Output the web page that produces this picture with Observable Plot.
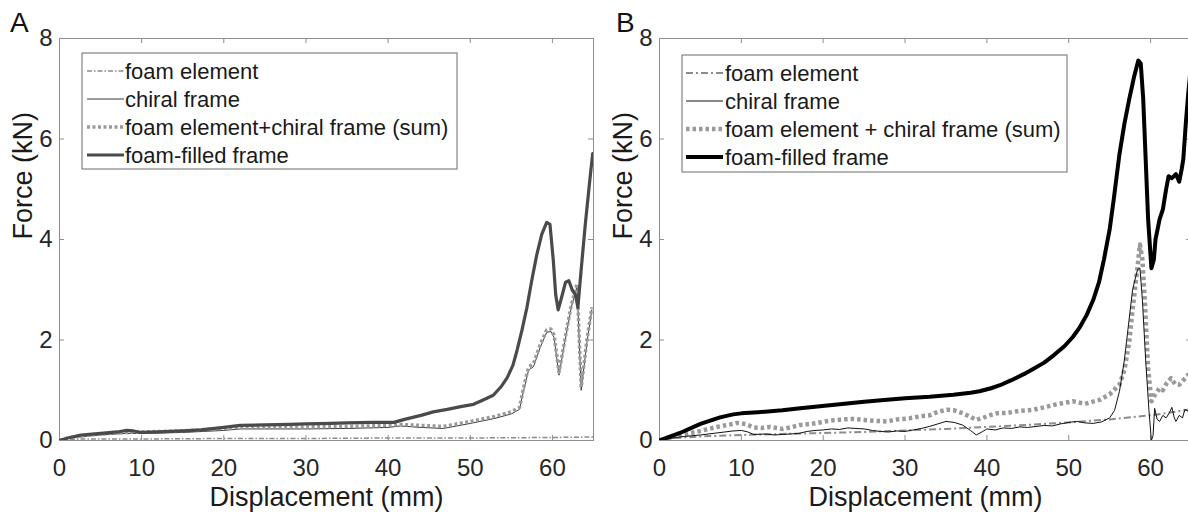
<!DOCTYPE html>
<html><head><meta charset="utf-8">
<script src="https://cdn.jsdelivr.net/npm/d3@7"></script>
<script src="https://cdn.jsdelivr.net/npm/@observablehq/plot@0.6"></script>
<style>
html,body{margin:0;padding:0;background:#fff;}
#wrap{position:relative;width:1188px;height:518px;overflow:hidden;background:#fff;}
.panel{position:absolute;top:0;width:600px;height:518px;}
</style></head><body>
<div id="wrap"><div class="panel" id="pa" style="left:0"></div><div class="panel" id="pb" style="left:600px"></div></div>
<script>
// ---------- ticks & labels ----------
const xTicks = [0, 10, 20, 30, 40, 50, 60];
const yTicks = [0, 2, 4, 6, 8];
const xLabel = "Displacement (mm)";
const yLabel = "Force (kN)";
const namesA = ["foam element", "chiral frame", "foam element+chiral frame (sum)", "foam-filled frame"];
const namesB = ["foam element", "chiral frame", "foam element + chiral frame (sum)", "foam-filled frame"];

// ---------- Panel A data [displacement mm, force kN] ----------
const aFoam = [[0,0],[1,0.02],[3,0.03],[10,0.03],[20,0.04],[30,0.04],[40,0.05],[50,0.05],[60,0.06],[65,0.07]];
const aChiral = [[0,0],[1,0.04],[3,0.08],[5,0.11],[8,0.14],[10,0.14],[15,0.16],[20,0.2],[22,0.23],[25,0.23],[30,0.23],[35,0.24],[40,0.26],[41.5,0.29],[44,0.26],[46.7,0.24],[50,0.34],[53,0.44],[55,0.53],[56,0.62],[56.5,1.0],[57.1,1.4],[57.7,1.47],[58.5,1.85],[59.3,2.15],[59.8,2.17],[60.2,2.05],[60.8,1.3],[61.5,1.95],[62.3,2.65],[63,3.07],[63.5,1.0],[64.2,1.95],[64.8,2.6]];
const aSum = [[0,0],[1,0.05],[3,0.1],[5,0.13],[8,0.16],[10,0.17],[15,0.19],[20,0.24],[22,0.27],[25,0.27],[30,0.27],[35,0.28],[40,0.3],[41.5,0.32],[44,0.3],[46.7,0.28],[50,0.38],[53,0.48],[55,0.57],[56,0.66],[56.5,1.06],[57.1,1.46],[57.7,1.53],[58.5,1.9],[59.3,2.2],[59.8,2.22],[60.2,2.1],[60.8,1.36],[61.5,2.0],[62.3,2.7],[63,3.12],[63.5,1.06],[64.2,2.0],[64.8,2.65]];
const aFilled = [[0,0],[1,0.05],[2.6,0.11],[5,0.14],[7,0.17],[8.2,0.2],[9,0.19],[10,0.16],[12,0.17],[15,0.19],[17.2,0.21],[20,0.26],[22,0.3],[25,0.31],[28,0.32],[30,0.33],[33,0.34],[35,0.35],[38,0.36],[40.7,0.36],[42,0.42],[44,0.5],[45.5,0.57],[47.2,0.62],[49,0.68],[50.4,0.72],[51.5,0.8],[52.8,0.9],[53.8,1.08],[54.5,1.25],[55.2,1.5],[55.7,1.8],[56.3,2.2],[56.9,2.65],[57.5,3.2],[58.1,3.7],[58.7,4.1],[59.3,4.34],[59.7,4.3],[60.1,3.6],[60.4,2.9],[60.7,2.6],[61.2,2.9],[61.6,3.15],[62,3.18],[62.4,3.0],[62.8,2.9],[63.1,2.65],[63.5,3.4],[64,4.3],[64.5,5.1],[64.9,5.71]];

// ---------- Panel B data ----------
const bFoam = [[0,0],[2,0.05],[5,0.08],[10,0.11],[15,0.13],[20,0.15],[25,0.17],[30,0.2],[35,0.23],[40,0.27],[45,0.31],[50,0.36],[55,0.42],[60,0.5],[65,0.62]];
const bChiral = [[0,0],[1,0.03],[2,0.06],[3,0.08],[5,0.11],[7,0.15],[9,0.19],[10,0.2],[10.8,0.17],[11.5,0.12],[13,0.13],[14,0.11],[15,0.12],[16,0.13],[17,0.14],[18,0.18],[19,0.2],[20,0.21],[21,0.23],[22,0.22],[23,0.25],[24,0.24],[25,0.23],[26,0.2],[27,0.18],[28,0.17],[29,0.19],[30,0.18],[31,0.21],[32,0.24],[33,0.28],[34,0.33],[35,0.38],[36,0.36],[37,0.31],[38,0.2],[38.7,0.11],[39.5,0.18],[40,0.23],[41,0.21],[42,0.25],[43,0.24],[44,0.27],[45,0.26],[46,0.28],[47,0.3],[48,0.29],[49,0.33],[50,0.36],[51,0.38],[52,0.35],[53,0.34],[54,0.37],[55,0.45],[55.6,0.6],[56.2,0.98],[56.8,1.6],[57.3,2.3],[57.8,3.0],[58.4,3.4],[58.7,3.43],[59,2.8],[59.4,1.6],[59.8,0.6],[60.1,0.0],[60.3,0.1],[60.5,0.64],[60.8,0.42],[61.1,0.38],[61.5,0.5],[61.9,0.45],[62.3,0.55],[62.6,0.66],[62.9,0.45],[63.1,0.38],[63.5,0.5],[63.9,0.45],[64.2,0.62],[64.6,0.58],[65,0.6]];
const bSum = [[0,0],[1,0.05],[3,0.12],[5,0.19],[7,0.27],[9,0.33],[9.5,0.35],[10.5,0.33],[11.5,0.26],[12.5,0.25],[13.5,0.27],[15,0.23],[16,0.26],[17.2,0.31],[18.5,0.33],[19.6,0.36],[21,0.4],[22.5,0.42],[23.7,0.43],[25,0.41],[26.5,0.39],[27.8,0.38],[29,0.42],[30.5,0.44],[31.8,0.48],[33,0.5],[34,0.57],[35.1,0.61],[36,0.6],[37.1,0.54],[38,0.47],[38.7,0.41],[39.5,0.45],[40.3,0.5],[41.2,0.54],[42.5,0.55],[44,0.59],[45.6,0.61],[47,0.66],[48.5,0.72],[50.5,0.78],[52,0.73],[53.8,0.81],[55,0.92],[56.2,1.11],[56.8,1.4],[57.4,1.97],[57.8,2.6],[58.3,3.3],[58.7,3.9],[59,3.6],[59.3,2.77],[59.7,1.44],[60.1,0.78],[60.5,0.9],[61.1,1.04],[61.5,1.0],[62,1.15],[62.5,1.24],[63,1.12],[63.5,1.11],[64,1.2],[64.6,1.31],[65,1.3]];
const bFilled = [[0,0],[1,0.06],[2.5,0.15],[5,0.33],[7.4,0.46],[9,0.52],[10,0.54],[12,0.56],[15,0.6],[17.2,0.64],[19.6,0.68],[22,0.72],[25,0.77],[27.8,0.81],[30,0.84],[33,0.87],[35.9,0.91],[38,0.95],[39.1,0.98],[40.5,1.04],[41.6,1.1],[43,1.2],[44.5,1.32],[45.6,1.42],[47,1.55],[48.2,1.7],[49.5,1.88],[50.5,2.06],[51.3,2.24],[52.2,2.5],[53,2.8],[53.7,3.15],[54.3,3.6],[55,4.2],[55.5,4.8],[56.2,5.7],[56.8,6.3],[57.4,6.8],[58,7.25],[58.5,7.56],[58.8,7.5],[59.1,6.8],[59.4,5.6],[59.7,4.4],[60.1,3.43],[60.4,3.6],[60.6,4.0],[61.1,4.4],[61.5,4.6],[61.9,5.0],[62.2,5.26],[62.6,5.22],[63.1,5.3],[63.5,5.15],[63.8,5.4],[64,5.6],[64.3,6.3],[64.6,6.9],[64.9,7.4]];

const FONT = "Liberation Sans, Arial, Helvetica, sans-serif";

function makePanel(el, cfg) {
  const marks = [
    Plot.frame({stroke: "#8e8e8e", strokeWidth: 1}),
    Plot.ruleX(xTicks, {x: d => d, y1: 0, y2: 0.1, stroke: "#8e8e8e"}),
    Plot.ruleX(xTicks, {x: d => d, y1: 8, y2: 7.9, stroke: "#8e8e8e"}),
    Plot.ruleY(yTicks, {y: d => d, x1: 0, x2: 0.6, stroke: "#8e8e8e"}),
    Plot.ruleY(yTicks, {y: d => d, x1: 65, x2: 64.4, stroke: "#8e8e8e"}),
    Plot.axisX(xTicks, {tickSize: 0, tickPadding: 18, label: null, fill: "#262626", fontSize: 24, tickFormat: d => String(d)}),
    Plot.axisY(yTicks, {tickSize: 0, tickPadding: 7, label: null, fill: "#262626", fontSize: 24, tickFormat: d => String(d)}),
    Plot.text([xLabel], {frameAnchor: "bottom", dy: 57, lineAnchor: "middle", fontSize: 27, fill: "#1a1a1a"}),
    Plot.text([yLabel], {frameAnchor: "left", dx: -36, rotate: -90, lineAnchor: "middle", fontSize: 27, fill: "#1a1a1a"})
  ];
  for (const s of cfg.series) {
    marks.push(Plot.line(s.data, {x: d => d[0], y: d => d[1], stroke: s.stroke, strokeWidth: s.width,
      strokeDasharray: s.dash || null, strokeLinecap: s.dash ? "butt" : "round", strokeLinejoin: "round", clip: true}));
  }
  const svg = Plot.plot({
    width: 600, height: 518,
    marginLeft: 59, marginRight: cfg.marginRight, marginTop: 38, marginBottom: 78,
    x: {domain: [0, 65]}, y: {domain: [0, 8]},
    style: {fontFamily: FONT, fontSize: "24px", background: "#fff", overflow: "visible"},
    marks
  });
  el.appendChild(svg);
  const s = d3.select(svg);
  // panel letter
  s.append("text").attr("x", cfg.letterX).attr("y", 32).attr("font-size", 28).attr("font-family", FONT)
    .attr("text-anchor", "start").attr("fill", "#111").text(cfg.letter);
  // legend
  const L = cfg.legend;
  const g = s.append("g").attr("text-anchor", "start");
  g.append("rect").attr("x", L.x).attr("y", L.y).attr("width", L.w).attr("height", L.h)
    .attr("fill", "#fff").attr("stroke", "#6a6a6a").attr("stroke-width", 1);
  cfg.series.forEach((ser) => {
    const y = L.rows[ser.row];
    g.append("line").attr("x1", L.sx1).attr("x2", L.sx2).attr("y1", y).attr("y2", y)
      .attr("stroke", ser.stroke).attr("stroke-width", ser.width)
      .attr("stroke-dasharray", ser.dash || null);
    g.append("text").attr("x", L.tx).attr("y", y).attr("dy", "0.35em").attr("text-anchor", "start")
      .attr("font-size", 22).attr("font-family", FONT).attr("fill", "#1a1a1a").text(cfg.names[ser.row]);
  });
}

makePanel(document.getElementById("pa"), {
  letter: "A", letterX: 10, marginRight: 7, names: namesA,
  legend: {x: 82, y: 53, w: 375, h: 116, rows: [71, 99, 127, 155], sx1: 87, sx2: 124, tx: 125},
  series: [
    {row: 0, data: aFoam, stroke: "#8c8c8c", width: 1.5, dash: "5,2,1.5,2"},
    {row: 1, data: aChiral, stroke: "#3a3a3a", width: 1},
    {row: 2, data: aSum, stroke: "#9a9a9a", width: 3.5, dash: "3,2.5"},
    {row: 3, data: aFilled, stroke: "#4a4a4a", width: 3.2}
  ]
});

makePanel(document.getElementById("pb"), {
  letter: "B", letterX: 16, marginRight: 9, names: namesB,
  legend: {x: 82, y: 55, w: 385, h: 117, rows: [73, 101, 129, 157], sx1: 86, sx2: 123, tx: 125},
  series: [
    {row: 0, data: bFoam, stroke: "#8c8c8c", width: 2, dash: "7,3,2,3"},
    {row: 2, data: bSum, stroke: "#9a9a9a", width: 4.5, dash: "3.5,3"},
    {row: 1, data: bChiral, stroke: "#111", width: 1},
    {row: 3, data: bFilled, stroke: "#000", width: 4}
  ]
});
</script>
</body></html>
